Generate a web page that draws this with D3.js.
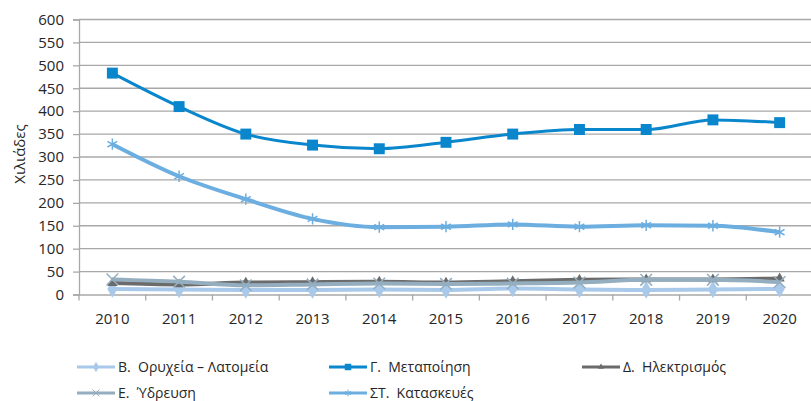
<!DOCTYPE html>
<html>
<head>
<meta charset="utf-8">
<script src="https://d3js.org/d3.v7.min.js"></script>
<style>
  body { margin: 0; background: #fff; }
  text { font-family: "Open Sans", sans-serif; fill: #262626; }
</style>
</head>
<body>
<div id="chart"></div>
<script>
// data (thousands)
const years = ["2010","2011","2012","2013","2014","2015","2016","2017","2018","2019","2020"];
const orycheia   = [12, 11, 10, 10, 11, 10, 13, 11, 10, 11, 12];
const metapoiisi = [483, 410, 350, 326, 318, 332, 350, 360, 360, 381, 375];
const ilektrismos = [25, 22, 26, 27, 28, 26, 29, 32, 33, 33, 35];
const ydreysi    = [33, 28, 20, 22, 24, 23, 24, 26, 32, 32, 27];
const kataskeyes = [328, 258, 208, 165, 147, 148, 153, 148, 151, 150, 136];
const yTicks = [0, 50, 100, 150, 200, 250, 300, 350, 400, 450, 500, 550, 600];

const series = [
  {name: "Β.  Ορυχεία – Λατομεία", values: orycheia, color: "#a9c9ea", width: 4, symbol: d3.symbolDiamond, size: 90, fillSym: true},
  {name: "Γ.  Μεταποίηση", values: metapoiisi, color: "#0a86cc", width: 3, symbol: d3.symbolSquare, size: 120, fillSym: true},
  {name: "Δ.  Ηλεκτρισμός", values: ilektrismos, color: "#6b6b6b", width: 4, symbol: d3.symbolTriangle, size: 45, fillSym: true},
  {name: "Ε.  Ύδρευση", values: ydreysi, color: "#94aec0", width: 4, symbol: d3.symbolTimes, size: 90, fillSym: false},
  {name: "ΣΤ.  Κατασκευές", values: kataskeyes, color: "#6caee0", width: 4, symbol: d3.symbolAsterisk, size: 90, fillSym: false}
];

const W = 811, H = 401;
const svg = d3.select("#chart").append("svg").attr("width", W).attr("height", H);

const x = d3.scaleBand().domain(years).range([79, 813]).padding(0);
const y = d3.scaleLinear().domain([0, 600]).range([294.5, 19.5]);
const cx = d => x(d) + x.bandwidth() / 2;

// gridlines
svg.append("g").selectAll("line").data(yTicks.filter(v => v > 0)).join("line")
  .attr("x1", 79).attr("x2", 813)
  .attr("y1", d => y(d)).attr("y2", d => y(d))
  .attr("stroke", "#a8a8a8").attr("stroke-width", 1.3);

// y axis
const yAxis = svg.append("g").attr("transform", "translate(79,0)")
  .call(d3.axisLeft(y).tickValues(yTicks).tickSize(6).tickPadding(9));
yAxis.select(".domain").attr("stroke", "#a8a8a8").attr("stroke-width", 1.3);
yAxis.selectAll(".tick line").attr("stroke", "#a8a8a8").attr("stroke-width", 1.3);
yAxis.selectAll("text").style("font-size", "15px").attr("fill", "#262626");

// x axis
const xAxis = svg.append("g").attr("transform", `translate(0,${y(0)})`)
  .call(d3.axisBottom(x).tickSize(0).tickPadding(19));
xAxis.select(".domain").attr("stroke", "#a8a8a8").attr("stroke-width", 1.3);
xAxis.selectAll("text").style("font-size", "15px").attr("fill", "#262626");
svg.append("g").selectAll("line").data(years).join("line")
  .attr("x1", d => x(d)).attr("x2", d => x(d))
  .attr("y1", y(0)).attr("y2", y(0) + 6)
  .attr("stroke", "#a8a8a8").attr("stroke-width", 1.3);

// y title
svg.append("text")
  .attr("transform", "translate(20,154) rotate(-90)")
  .attr("text-anchor", "middle")
  .attr("dy", "0.35em")
  .style("font-size", "15px")
  .text("Χιλιάδες");

// lines
const line = d3.line().x((d, i) => cx(years[i])).y(d => y(d)).curve(d3.curveMonotoneX);

series.forEach(s => {
  const g = svg.append("g");
  g.append("path").datum(s.values)
    .attr("d", line).attr("fill", "none")
    .attr("stroke", s.color).attr("stroke-width", s.width)
    .attr("stroke-linejoin", "round");
  g.selectAll("path.m").data(s.values).join("path").attr("class", "m")
    .attr("transform", (d, i) => `translate(${cx(years[i])},${y(d)})`)
    .attr("d", d3.symbol().type(s.symbol).size(s.size))
    .attr("fill", s.fillSym ? s.color : "none")
    .attr("stroke", s.color)
    .attr("stroke-width", s.fillSym ? 0 : 1.5);
});

// legend
const legPos = [[77, 367], [329, 367], [582, 367], [77, 393], [329, 393]];
series.forEach((s, i) => {
  const [lx, ly] = legPos[i];
  const g = svg.append("g").attr("transform", `translate(${lx},${ly})`);
  g.append("line").attr("x1", 0).attr("x2", 38).attr("y1", 0).attr("y2", 0)
    .attr("stroke", s.color).attr("stroke-width", 3);
  g.append("path").attr("transform", "translate(19,0)")
    .attr("d", d3.symbol().type(s.symbol).size(s.size * 0.35))
    .attr("fill", s.fillSym ? s.color : "none")
    .attr("stroke", s.color).attr("stroke-width", s.fillSym ? 0 : 1);
  g.append("text").attr("x", 41).attr("dy", "0.35em")
    .attr("xml:space", "preserve")
    .style("font-size", "14px").style("white-space", "pre")
    .text(s.name);
});
</script>
</body>
</html>
